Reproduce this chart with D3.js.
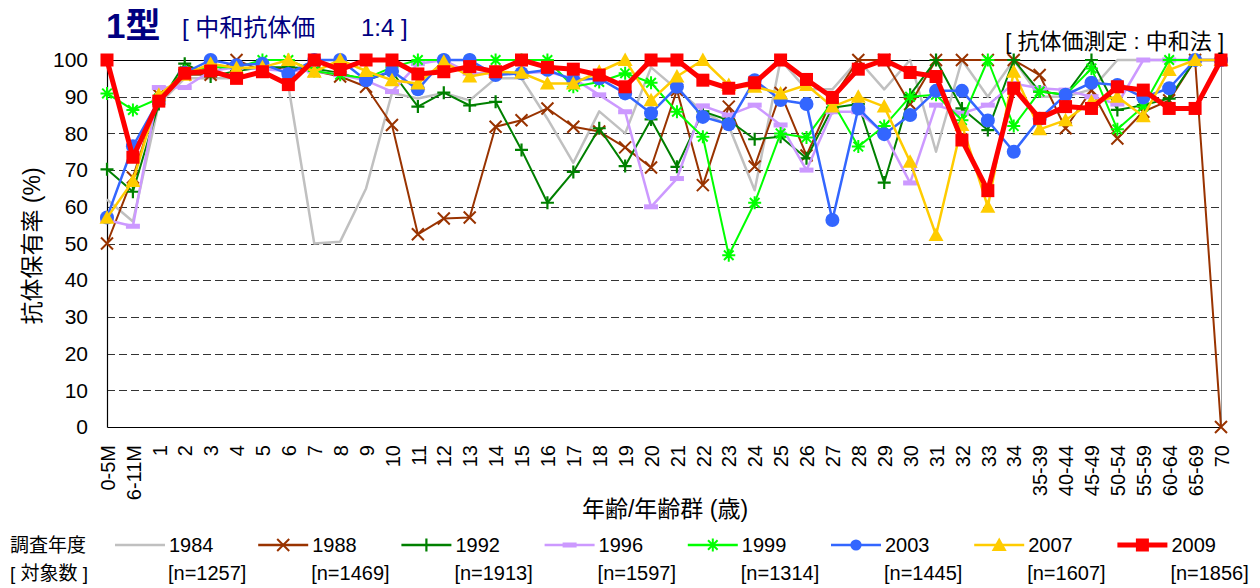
<!DOCTYPE html>
<html><head><meta charset="utf-8">
<script src="https://cdn.jsdelivr.net/npm/d3@7"></script>
<style>
body{margin:0;background:#fff}
svg{display:block}
text{font-family:"Liberation Sans",Arial,"Noto Sans CJK JP",sans-serif}
</style>
</head><body>
<svg id="c" width="1260" height="588"></svg>
<script>
// ---------- data ----------
const categories = ["0-5M","6-11M","1","2","3","4","5","6","7","8","9","10","11","12","13","14","15","16","17","18","19","20","21","22","23","24","25","26","27","28","29","30","31","32","33","34","35-39","40-44","45-49","50-54","55-59","60-64","65-69","70"];
const yTicks = [0,10,20,30,40,50,60,70,80,90,100];
const years = ["1984","1988","1992","1996","1999","2003","2007","2009"];
const sampleSizes = ["[n=1257]","[n=1469]","[n=1913]","[n=1597]","[n=1314]","[n=1445]","[n=1607]","[n=1856]"];

const s1984 = [62,56,88,95,95,95,97,93,50,50.5,65,91,89.5,91,89,95,95,84,72,86,80,98,92,86,82,64.5,100,92,92,100,92,100,75,100,90,100,90,90,92,100,100,100,100,100];
const s1988 = [50,68,90.5,96,96,100,97,98,97,95.5,92.7,82.3,52.5,56.8,57.1,81.8,83.6,86.8,81.8,80.5,76.2,70.7,91.8,65.9,87.3,71,91,74,89.5,100,100,88,100,100,100,100,95.9,81.4,91.8,78.6,85.9,89,100,0];
const s1992 = [70.2,64.1,88,99,95.5,97,98,98,97.7,96.4,94.5,96.8,87.3,91.1,87.6,88.6,75.5,61.1,69.5,81.4,71.1,83.8,70.9,86,83.6,78.4,79.1,73.2,87,88,66.6,90.5,100,86.8,80.9,100,91.4,90.5,100,86.4,87.7,89.5,100,100];
const s1996 = [56.4,54.7,92.5,92.5,97,98,97.5,97,97,96,94.4,91.4,99,100,96.4,96.4,96.4,96.8,95,90.5,85.9,60,67.7,87.5,85,87.7,82.3,70,85.9,85.9,80,66.5,87.7,85.5,87.7,93.6,92.3,91.8,90,88,100,100,100,100];
const s1999 = [90.9,86.4,89.5,97,98,98,100,100,97,96,95,98,100,100,100,100,100,100,92.7,94,96.4,93.8,85.9,79.1,46.8,61.1,80,78.9,88.6,76.4,82,90,90.5,83.6,100,82,91.4,90.5,97.7,81.1,87.3,100,100,100];
const s2003 = [57.1,76.5,89,96.5,100,98.6,99,96.2,100,100,94.5,97,92,100,100,95.9,96.4,97.3,94.5,95,90.9,85.5,92.7,84.5,82.5,94.5,89.1,88,56.4,86.8,79.8,85,91.6,91.6,83.5,75,84,90.5,93.8,93.2,89.8,92.3,100,100];
const s2007 = [57,67,90.5,96,99,97.8,98,100,96.8,100,97,94.5,93.6,99.5,95.5,96.8,96.5,93.6,93.6,96.8,100,89,95.5,100,93.2,92.7,90.9,93.2,87.3,90,87.3,72.3,52.3,82.3,60,96.8,81.1,83.6,88.6,90,84.7,97.3,100,100];
const s2009 = [100,73.5,88.8,96.4,97,95,96.8,93.3,100,97.4,100,100,96.2,96.8,98.2,96.8,100,98,97.5,95.9,92.7,100,100,94.5,92.3,93.8,100,94.7,89.8,97.5,100,96.6,95.5,78.2,64.4,92.3,84.1,87.3,86.8,92.7,91.8,86.8,86.8,100];

const seriesValues = [s1984,s1988,s1992,s1996,s1999,s2003,s2007,s2009];

// ---------- styles ----------
const colors = ["#c0c0c0","#993300","#008000","#cc99ff","#00ff00","#3366ff","#ffcc00","#ff0000"];
const widths = [2.5,2,2,2.5,2,2.5,2.5,5];
const markers = ["none","x","plus","dash","star","circle","triangle","square"];
const CJK = "'Noto Sans CJK JP','Liberation Sans',sans-serif";
const LAT = "'Liberation Sans',Arial,sans-serif";

const svg = d3.select("#c");
const x = d3.scalePoint().domain(categories).range([107,1221]).padding(0);
const y = d3.scaleLinear().domain([0,100]).range([427,60]);

// grid
svg.append("g").selectAll("line").data(yTicks.filter(t=>t>0&&t<100)).join("line")
  .attr("x1",107).attr("x2",1221).attr("y1",d=>Math.round(y(d))+0.5).attr("y2",d=>Math.round(y(d))+0.5)
  .attr("stroke","#333").attr("stroke-width",1).attr("stroke-dasharray","8,4");
// top and right frame
svg.append("line").attr("x1",107).attr("x2",1221).attr("y1",y(100)+0.5).attr("y2",y(100)+0.5).attr("stroke","#000");
svg.append("line").attr("x1",1221.5).attr("x2",1221.5).attr("y1",y(100)).attr("y2",y(0)).attr("stroke","#999");

// axes
const gy = svg.append("g").attr("transform","translate(107,0)")
  .call(d3.axisLeft(y).tickValues(yTicks).tickSize(0).tickSizeOuter(0).tickPadding(19));
gy.select(".domain").attr("stroke","#000").attr("stroke-width",1.2);
gy.selectAll("text").attr("font-size",21).attr("fill","#000").attr("font-family",LAT);

const gx = svg.append("g").attr("transform","translate(0,427)")
  .call(d3.axisBottom(x).tickSize(0).tickSizeOuter(0).tickPadding(0));
gx.select(".domain").attr("stroke","#000").attr("stroke-width",1.2);
gx.selectAll("text")
  .attr("transform","rotate(-90)")
  .attr("x",-18).attr("y",0).attr("dy","0.36em")
  .style("text-anchor","end")
  .attr("font-size",20).attr("fill","#000").attr("font-family",LAT);

// marker drawing
function drawMarker(g, type, color, cx, cy, k){
  k = k||1;
  if(type==="x"){
    const s=6*k;
    g.append("path").attr("d",`M${cx-s},${cy-s}L${cx+s},${cy+s}M${cx-s},${cy+s}L${cx+s},${cy-s}`)
      .attr("stroke",color).attr("stroke-width",2).attr("fill","none");
  } else if(type==="plus"){
    const s=6.5*k;
    g.append("path").attr("d",`M${cx-s},${cy}L${cx+s},${cy}M${cx},${cy-s}L${cx},${cy+s}`)
      .attr("stroke",color).attr("stroke-width",2.2).attr("fill","none");
  } else if(type==="star"){
    const s=6.5*k, d=4.8*k;
    g.append("path").attr("d",`M${cx-s},${cy}L${cx+s},${cy}M${cx},${cy-s}L${cx},${cy+s}M${cx-d},${cy-d}L${cx+d},${cy+d}M${cx-d},${cy+d}L${cx+d},${cy-d}`)
      .attr("stroke",color).attr("stroke-width",2).attr("fill","none");
  } else if(type==="dash"){
    g.append("rect").attr("x",cx-7*k).attr("y",cy-2.5*k).attr("width",14*k).attr("height",5*k).attr("fill",color);
  } else if(type==="circle"){
    g.append("circle").attr("cx",cx).attr("cy",cy).attr("r",7*k).attr("fill",color);
  } else if(type==="triangle"){
    const s=7.5*k;
    g.append("path").attr("d",`M${cx},${cy-7.5*k}L${cx+s},${cy+6*k}L${cx-s},${cy+6*k}Z`).attr("fill",color);
  } else if(type==="square"){
    const s=6.5*k;
    g.append("rect").attr("x",cx-s).attr("y",cy-s).attr("width",2*s).attr("height",2*s).attr("fill",color);
  }
}

// series
const line = d3.line().x((d,i)=>x(categories[i])).y(d=>y(d));
seriesValues.forEach((vals,si)=>{
  const g = svg.append("g");
  g.append("path").datum(vals).attr("d",line).attr("fill","none")
    .attr("stroke",colors[si]).attr("stroke-width",widths[si]).attr("stroke-linejoin","round");
  vals.forEach((v,i)=>drawMarker(g, markers[si], colors[si], x(categories[i]), y(v)));
});

// titles
svg.append("text").attr("x",106).attr("y",38).attr("fill","#000080")
  .attr("font-size",35).attr("font-weight","bold").attr("font-family",CJK).text("1型");
const sub = svg.append("text").attr("x",182).attr("y",36).attr("fill","#000080").attr("font-size",24)
  .attr("font-family",CJK);
sub.append("tspan").text("[ 中和抗体価");
sub.append("tspan").attr("x",361).text("1:4 ]");
svg.append("text").attr("x",1224).attr("y",49).attr("text-anchor","end").attr("fill","#000").attr("font-size",22)
  .attr("font-family",CJK).text("[ 抗体価測定 : 中和法 ]");

// axis titles
svg.append("text").attr("transform","translate(40,246) rotate(-90)").attr("text-anchor","middle")
  .attr("font-size",23).attr("fill","#000").attr("font-family",CJK).text("抗体保有率 (%)");
svg.append("text").attr("x",665).attr("y",517).attr("text-anchor","middle")
  .attr("font-size",23).attr("fill","#000").attr("font-family",CJK).text("年齢/年齢群 (歳)");

// legend
svg.append("text").attr("x",10).attr("y",552).attr("font-size",19).attr("fill","#000")
  .attr("font-family",CJK).text("調査年度");
svg.append("text").attr("x",10).attr("y",580).attr("font-size",19).attr("fill","#000")
  .attr("font-family",CJK).text("[ 対象数 ]");
years.forEach((yr,si)=>{
  const x0 = 115 + si*143.2;
  const g = svg.append("g");
  g.append("line").attr("x1",x0).attr("x2",x0+50).attr("y1",545).attr("y2",545)
    .attr("stroke",colors[si]).attr("stroke-width",si===7?5:2.5);
  drawMarker(g, markers[si], colors[si], x0+25, 545, si===5?0.8:1);
  g.append("text").attr("x",x0+54).attr("y",552).attr("font-size",20).attr("fill","#000").attr("font-family",LAT).text(yr);
  g.append("text").attr("x",x0+53).attr("y",580).attr("font-size",20).attr("fill","#000").attr("font-family",LAT).text(sampleSizes[si]);
});
</script>
</body></html>
